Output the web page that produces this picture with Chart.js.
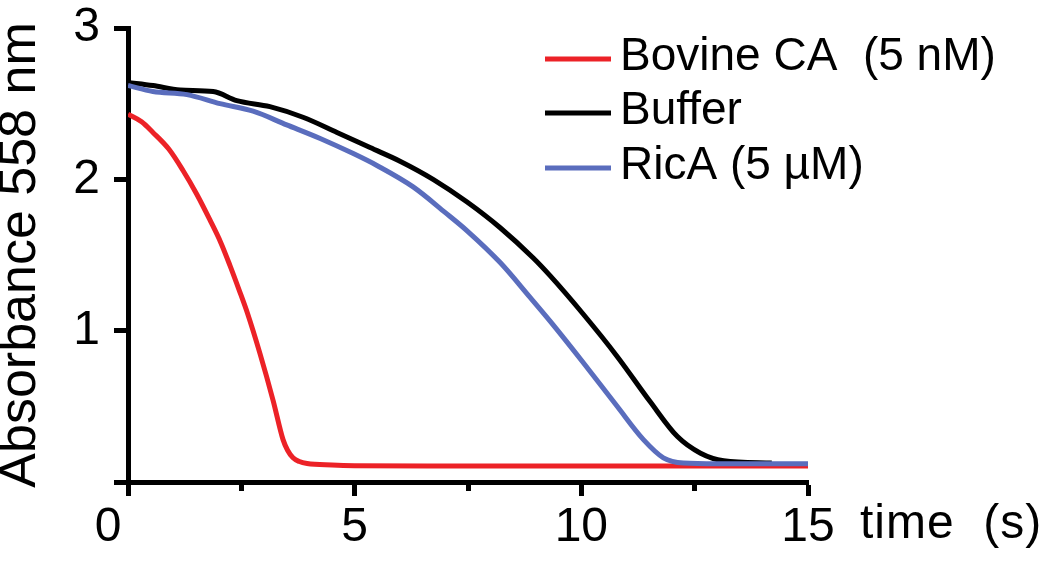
<!DOCTYPE html>
<html><head><meta charset="utf-8">
<script src="https://cdn.jsdelivr.net/npm/chart.js@4"></script>
<style>html,body{margin:0;padding:0;background:#fff;overflow:hidden}</style>
</head><body>
<canvas id="c" width="1050" height="562"></canvas>
<script>
// ---- data ----
const seriesLabels = ['Bovine CA  (5 nM)', 'Buffer', 'RicA (5 µM)'];
const seriesColors = ['#ec2227', '#000000', '#5a6dbd'];

const bovineTime = [0, 0.3, 0.55, 0.9, 1.21, 1.52, 1.81, 2.05, 2.25, 2.45, 2.63, 2.91, 3.2, 3.42, 3.52, 3.64, 3.78, 3.95, 4.5, 5, 7, 10, 13, 15];
const bovineAbs  = [2.43, 2.38, 2.31, 2.20, 2.06, 1.90, 1.73, 1.58, 1.43, 1.27, 1.12, 0.85, 0.54, 0.28, 0.21, 0.16, 0.135, 0.122, 0.112, 0.108, 0.106, 0.105, 0.105, 0.105];

const bufferTime = [0, 0.55, 1.15, 1.88, 2.4, 3.13, 3.86, 4.61, 5.34, 6.0, 6.73, 7.48, 8.21, 8.94, 9.32, 10.04, 10.79, 11.52, 12.12, 12.63, 13.14, 14.2];
const bufferAbs  = [2.64, 2.62, 2.59, 2.58, 2.52, 2.48, 2.41, 2.31, 2.21, 2.12, 2.0, 1.85, 1.68, 1.48, 1.36, 1.11, 0.83, 0.53, 0.30, 0.19, 0.14, 0.125];

const ricaTime = [0, 0.55, 1.3, 2.03, 2.76, 3.5, 4.24, 4.97, 5.5, 6.29, 7.0, 7.48, 8.21, 8.87, 9.32, 10.04, 10.79, 11.37, 11.81, 12.25, 13, 15];
const ricaAbs  = [2.62, 2.58, 2.56, 2.50, 2.45, 2.36, 2.27, 2.17, 2.09, 1.95, 1.78, 1.66, 1.45, 1.22, 1.06, 0.79, 0.50, 0.28, 0.16, 0.125, 0.12, 0.12];

const xMajorTicks = [0, 5, 10, 15];
const xMinorTicks = [2.5, 7.5, 12.5];
const yMajorTicks = [0, 1, 2, 3];
const yLabelledTicks = [1, 2, 3];
const xAxisTitle = 'time  (s)';
const yAxisTitle = 'Absorbance 558 nm';

// ---- build ----
const FONT = '"Liberation Sans", Arial, Helvetica, sans-serif';
const toPts = (t, v) => t.map((x, i) => ({x, y: v[i]}));
const seriesData = [toPts(bovineTime, bovineAbs), toPts(bufferTime, bufferAbs), toPts(ricaTime, ricaAbs)];
const drawOrder = [2, 1, 0]; // blue on top, then black, red below

const datasets = seriesLabels.map((lab, i) => ({
  label: lab,
  data: seriesData[i],
  borderColor: seriesColors[i],
  backgroundColor: seriesColors[i],
  borderWidth: 5,
  pointRadius: 0,
  cubicInterpolationMode: 'monotone',
  fill: false,
  order: drawOrder[i]
}));

const annotations = {
  id: 'annotations',
  afterDraw(chart) {
    const ctx = chart.ctx;
    ctx.save();
    ctx.font = '46px ' + FONT;
    ctx.fillStyle = '#000';
    ctx.textAlign = 'left';
    ctx.textBaseline = 'middle';
    const rowY = [59, 113, 168];
    chart.data.datasets.forEach((ds, i) => {
      const y = rowY[i];
      ctx.strokeStyle = ds.borderColor;
      ctx.lineWidth = 5;
      ctx.beginPath(); ctx.moveTo(545, y); ctx.lineTo(611, y); ctx.stroke();
      ctx.fillText(ds.label, 620, y - 2);
    });
    // x axis title to the right of the last tick label
    const xs = chart.scales.x;
    ctx.font = '48px ' + FONT;
    ctx.letterSpacing = '1px';
    ctx.fillText(xAxisTitle, xs.getPixelForValue(15) + 52, 525);
    ctx.restore();
  }
};

new Chart(document.getElementById('c'), {
  type: 'line',
  data: { datasets },
  options: {
    responsive: false,
    animation: false,
    devicePixelRatio: 1,
    layout: { padding: { top: 28, right: 242, left: 0, bottom: 0 } },
    plugins: { legend: { display: false }, tooltip: { enabled: false } },
    scales: {
      x: {
        type: 'linear', min: 0, max: 15,
        afterBuildTicks: s => { s.ticks = [...xMajorTicks, ...xMinorTicks].sort((a, b) => a - b).map(v => ({value: v})); },
        afterFit: s => { s.height = 80; s.paddingLeft = 0; s.paddingRight = 0; },
        ticks: {
          autoSkip: false, maxRotation: 0,
          font: { size: 48, family: FONT }, color: '#000', padding: 3,
          callback: v => xMajorTicks.includes(v) ? (v === 0 ? '0   ' : String(v)) : ''
        },
        grid: {
          drawOnChartArea: false, drawTicks: true, tickLength: 14, tickWidth: 5, tickColor: '#000',
          tickBorderDash: c => (c.tick && xMinorTicks.includes(c.tick.value)) ? [6, 40] : []
        },
        border: { display: true, color: '#000', width: 5 }
      },
      y: {
        type: 'linear', min: 0, max: 3,
        afterBuildTicks: s => { s.ticks = yMajorTicks.map(v => ({value: v})); },
        afterFit: s => { s.width = 128; s.paddingTop = 0; s.paddingBottom = 0; },
        ticks: {
          font: { size: 48, family: FONT }, color: '#000', padding: 14,
          callback: v => yLabelledTicks.includes(v) ? String(v) : ''
        },
        grid: { drawOnChartArea: false, drawTicks: true, tickLength: 14, tickWidth: 5, tickColor: '#000' },
        border: { display: true, color: '#000', width: 5 },
        title: { display: true, text: yAxisTitle, color: '#000', font: { size: 52, family: FONT, lineHeight: 0.8 }, padding: 0 }
      }
    }
  },
  plugins: [annotations]
});
</script>
</body></html>
